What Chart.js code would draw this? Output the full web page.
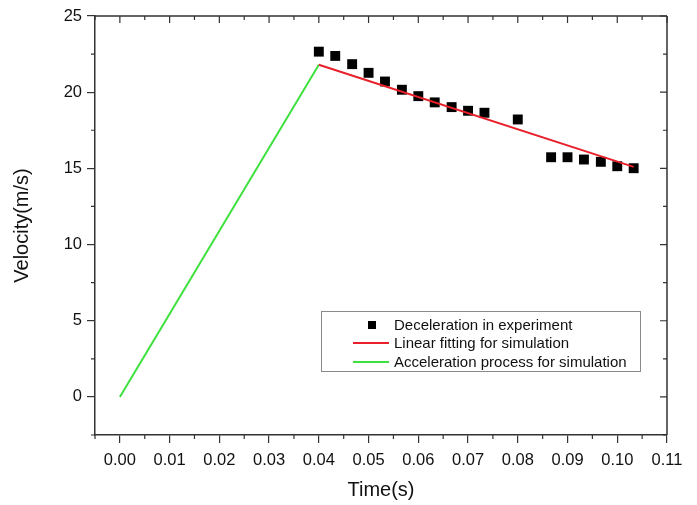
<!DOCTYPE html>
<html>
<head>
<meta charset="utf-8">
<script src="https://cdn.jsdelivr.net/npm/chart.js@4"></script>
<style>
  html, body { margin: 0; padding: 0; background: #fff; }
  #wrap { width: 697px; height: 505px; position: relative; }
</style>
</head>
<body>
<div id="wrap"><canvas id="chart"></canvas></div>
<script>
  // measured points (deceleration in experiment)
  const expTime = [0.0400, 0.0433, 0.0467, 0.0500, 0.0533, 0.0567, 0.0600, 0.0633, 0.0667,
                   0.0700, 0.0733, 0.0800, 0.0867, 0.0900, 0.0933, 0.0967, 0.1000, 0.1033];
  const expVel = [22.66, 22.38, 21.84, 21.27, 20.70, 20.16, 19.74, 19.33, 19.02,
                  18.78, 18.65, 18.21, 15.73, 15.73, 15.58, 15.43, 15.14, 15.01];

  // simulation lines
  const fitTime = [0.04, 0.1033];
  const fitVel = [21.8, 15.1];
  const accTime = [0, 0.04];
  const accVel = [0, 21.8];

  // axis ticks
  const xTicks = [0, 0.01, 0.02, 0.03, 0.04, 0.05, 0.06, 0.07, 0.08, 0.09, 0.10, 0.11];
  const xTickLabels = ['0.00', '0.01', '0.02', '0.03', '0.04', '0.05', '0.06', '0.07', '0.08', '0.09', '0.10', '0.11'];
  const yTicks = [0, 5, 10, 15, 20, 25];
  const yTickLabels = ['0', '5', '10', '15', '20', '25'];

  const labels = ['Deceleration in experiment', 'Linear fitting for simulation', 'Acceleration process for simulation'];

  const toPts = (xs, ys) => xs.map((x, i) => ({ x: x, y: ys[i] }));

  const FRAME = '#333';
  const FONT = '"Liberation Sans", Arial, sans-serif';

  // Frame on top/right, minor ticks, inward ticks
  const framePlugin = {
    id: 'frame',
    afterDraw(chart) {
      const ctx = chart.ctx;
      const a = chart.chartArea;
      const xs = chart.scales.x, ys = chart.scales.y;
      ctx.save();
      ctx.strokeStyle = FRAME;
      ctx.lineWidth = 1.5;
      ctx.beginPath();
      ctx.moveTo(a.left, a.top); ctx.lineTo(a.right, a.top);
      ctx.moveTo(a.right, a.top); ctx.lineTo(a.right, a.bottom);
      ctx.stroke();

      ctx.lineWidth = 1.2;
      ctx.beginPath();
      // x major on top (inward)
      xTicks.forEach(v => {
        const px = xs.getPixelForValue(v);
        ctx.moveTo(px, a.top); ctx.lineTo(px, a.top + 7);
      });
      // x minor
      const xMinor = [xs.min].concat(xTicks.slice(0, -1).map((v, i) => (v + xTicks[i + 1]) / 2));
      xMinor.forEach(v => {
        const px = xs.getPixelForValue(v);
        ctx.moveTo(px, a.bottom); ctx.lineTo(px, a.bottom + 4);
        ctx.moveTo(px, a.top); ctx.lineTo(px, a.top + 4);
      });
      // y major on right (inward)
      yTicks.forEach(v => {
        const py = ys.getPixelForValue(v);
        ctx.moveTo(a.right, py); ctx.lineTo(a.right - 7, py);
      });
      const yMinor = [ys.min].concat(yTicks.map(v => v + 2.5).filter(v => v < ys.max));
      yMinor.forEach(v => {
        const py = ys.getPixelForValue(v);
        ctx.moveTo(a.left, py); ctx.lineTo(a.left - 4, py);
        ctx.moveTo(a.right, py); ctx.lineTo(a.right - 4, py);
      });
      ctx.stroke();
      ctx.restore();
    }
  };

  // Legend box inside the plot
  const legendPlugin = {
    id: 'boxLegend',
    afterDraw(chart) {
      const ctx = chart.ctx;
      const a = chart.chartArea;
      const bx = a.left + 226, by = a.top + 295, bw = 319, bh = 60;
      ctx.save();
      ctx.fillStyle = '#fff';
      ctx.fillRect(bx, by, bw, bh);
      ctx.strokeStyle = '#8a8a8a';
      ctx.lineWidth = 1;
      ctx.strokeRect(bx + 0.5, by + 0.5, bw, bh);
      ctx.font = '15px ' + FONT;
      ctx.textBaseline = 'middle';
      ctx.fillStyle = '#111';
      const rows = [by + 14, by + 32, by + 51];
      chart.data.datasets.forEach((ds, i) => {
        const y = rows[i];
        if (i === 0) {
          ctx.fillStyle = ds.backgroundColor;
          ctx.fillRect(bx + 47, y - 4, 8, 8);
        } else {
          ctx.strokeStyle = ds.borderColor;
          ctx.lineWidth = 2;
          ctx.beginPath();
          ctx.moveTo(bx + 32, y); ctx.lineTo(bx + 68, y);
          ctx.stroke();
        }
        ctx.fillStyle = '#111';
        ctx.fillText(ds.label, bx + 73, y + 1);
      });
      ctx.restore();
    }
  };

  new Chart(document.getElementById('chart'), {
    type: 'scatter',
    data: {
      datasets: [
        {
          label: labels[0],
          data: toPts(expTime, expVel),
          pointStyle: 'rect',
          pointRadius: 7,
          backgroundColor: '#000',
          borderColor: '#000',
          borderWidth: 0,
          showLine: false,
          order: 1
        },
        {
          label: labels[1],
          data: toPts(fitTime, fitVel),
          showLine: true,
          borderColor: '#e8202a',
          backgroundColor: '#e8202a',
          borderWidth: 2,
          pointRadius: 0,
          order: 0
        },
        {
          label: labels[2],
          data: toPts(accTime, accVel),
          showLine: true,
          borderColor: '#3ee03e',
          backgroundColor: '#3ee03e',
          borderWidth: 2,
          pointRadius: 0,
          order: 2
        }
      ]
    },
    options: {
      responsive: true,
      maintainAspectRatio: false,
      animation: false,
      layout: { padding: { left: 0, top: 16, right: 30, bottom: 0 } },
      plugins: {
        legend: { display: false },
        tooltip: { enabled: false }
      },
      scales: {
        x: {
          type: 'linear',
          min: -0.005,
          max: 0.11,
          afterBuildTicks: s => { s.ticks = xTicks.map(v => ({ value: v })); },
          afterFit: s => { s.height = 70; },
          ticks: {
            callback: (v) => { const i = xTicks.findIndex(t => Math.abs(t - v) < 1e-9); return i >= 0 ? xTickLabels[i] : ''; },
            color: '#111',
            font: { family: FONT, size: 16.5 },
            padding: 8,
            maxRotation: 0,
            autoSkip: false
          },
          grid: { display: true, drawOnChartArea: false, drawTicks: true, tickLength: 8, color: FRAME, lineWidth: 1.2 },
          border: { display: true, color: FRAME, width: 1.5 },
          title: { display: true, text: 'Time(s)', color: '#111', font: { family: FONT, size: 20 }, padding: { top: 0, bottom: 3 } }
        },
        y: {
          type: 'linear',
          min: -2.5,
          max: 25,
          afterBuildTicks: s => { s.ticks = yTicks.map(v => ({ value: v })); },
          afterFit: s => { s.width = 95; },
          ticks: {
            callback: (v) => { const i = yTicks.indexOf(v); return i >= 0 ? yTickLabels[i] : ''; },
            color: '#111',
            font: { family: FONT, size: 16.5 },
            padding: 5
          },
          grid: { display: true, drawOnChartArea: false, drawTicks: true, tickLength: 8, color: FRAME, lineWidth: 1.2 },
          border: { display: true, color: FRAME, width: 1.5 },
          title: { display: true, text: 'Velocity(m/s)', color: '#111', font: { family: FONT, size: 20 }, padding: { top: 10, bottom: 0 } }
        }
      }
    },
    plugins: [framePlugin, legendPlugin]
  });
</script>
</body>
</html>
